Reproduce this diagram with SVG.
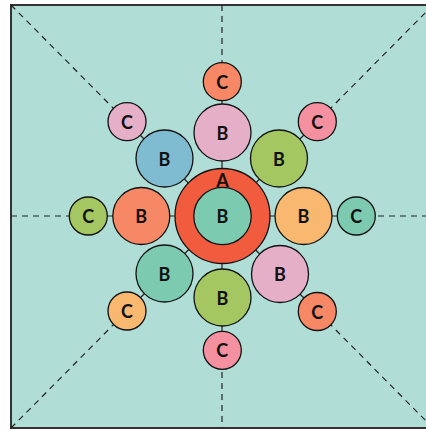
<svg xmlns="http://www.w3.org/2000/svg" width="426" height="430" viewBox="0 0 426 430">
<style>
.n{stroke:#111;stroke-width:1.3}
.t{font-family:Lato,"Open Sans",sans-serif;font-weight:bold;font-size:18px;fill:#111;text-anchor:middle;dominant-baseline:central}
.s{stroke:#222;stroke-width:1.2;fill:none}
.d{stroke:#222;stroke-width:1.2;fill:none;stroke-dasharray:6,5}
</style>
<rect x="11" y="5" width="422" height="423" fill="#b0ded7" stroke="#333" stroke-width="2"/>
<g id="connectors">
<line class="d" x1="222" y1="5" x2="222" y2="82"/>
<line class="d" x1="222" y1="350" x2="222" y2="428"/>
<line class="d" x1="11" y1="216" x2="88" y2="216"/>
<line class="d" x1="356" y1="216" x2="433" y2="216"/>
<line class="d" x1="11" y1="5" x2="127" y2="122"/>
<line class="d" x1="433" y1="5" x2="317" y2="122"/>
<line class="d" x1="11" y1="428" x2="127" y2="311"/>
<line class="d" x1="433" y1="428" x2="317" y2="311"/>
<line class="s" x1="222" y1="82" x2="222" y2="350"/>
<line class="s" x1="88" y1="216" x2="356" y2="216"/>
<line class="s" x1="127" y1="122" x2="317" y2="311"/>
<line class="s" x1="317" y1="122" x2="127" y2="311"/>
</g>
<g id="A"><circle class="n" cx="222.5" cy="216" r="47.5" fill="#f15c3f"/><text class="t" x="222.5" y="180">A</text></g>
<g id="B0"><circle class="n" cx="222.5" cy="216" r="28.7" fill="#7ccbb1"/><text class="t" x="222.5" y="216">B</text></g>
<g id="B1"><circle class="n" cx="222.5" cy="132.5" r="28.5" fill="#e6afc8"/><text class="t" x="222.5" y="132.5">B</text></g>
<g id="B2"><circle class="n" cx="279" cy="158.5" r="28.5" fill="#a5c761"/><text class="t" x="279" y="158.5">B</text></g>
<g id="B3"><circle class="n" cx="303.5" cy="216" r="28.5" fill="#f8b870"/><text class="t" x="303.5" y="216">B</text></g>
<g id="B4"><circle class="n" cx="280" cy="274" r="28.5" fill="#e6afc8"/><text class="t" x="280" y="274">B</text></g>
<g id="B5"><circle class="n" cx="222.5" cy="297.5" r="28.5" fill="#a5c761"/><text class="t" x="222.5" y="297.5">B</text></g>
<g id="B6"><circle class="n" cx="164.5" cy="273.5" r="28.5" fill="#7ccbb1"/><text class="t" x="164.5" y="273.5">B</text></g>
<g id="B7"><circle class="n" cx="141.3" cy="216" r="28.5" fill="#f78866"/><text class="t" x="141.3" y="216">B</text></g>
<g id="B8"><circle class="n" cx="164.5" cy="158.5" r="28.5" fill="#80bcd1"/><text class="t" x="164.5" y="158.5">B</text></g>
<g id="C1"><circle class="n" cx="222.3" cy="81.7" r="19" fill="#f78866"/><text class="t" x="222.3" y="81.7">C</text></g>
<g id="C2"><circle class="n" cx="317.3" cy="121.7" r="19" fill="#f4909f"/><text class="t" x="317.3" y="121.7">C</text></g>
<g id="C3"><circle class="n" cx="356.3" cy="216" r="19" fill="#7ccbb1"/><text class="t" x="356.3" y="216">C</text></g>
<g id="C4"><circle class="n" cx="317.3" cy="311.5" r="19" fill="#f78866"/><text class="t" x="317.3" y="311.5">C</text></g>
<g id="C5"><circle class="n" cx="222.3" cy="350.3" r="19" fill="#f4909f"/><text class="t" x="222.3" y="350.3">C</text></g>
<g id="C6"><circle class="n" cx="127" cy="311" r="19" fill="#f8b870"/><text class="t" x="127" y="311">C</text></g>
<g id="C7"><circle class="n" cx="88.3" cy="216" r="19" fill="#a5c761"/><text class="t" x="88.3" y="216">C</text></g>
<g id="C8"><circle class="n" cx="127" cy="121.7" r="19" fill="#e6afc8"/><text class="t" x="127" y="121.7">C</text></g>
</svg>
